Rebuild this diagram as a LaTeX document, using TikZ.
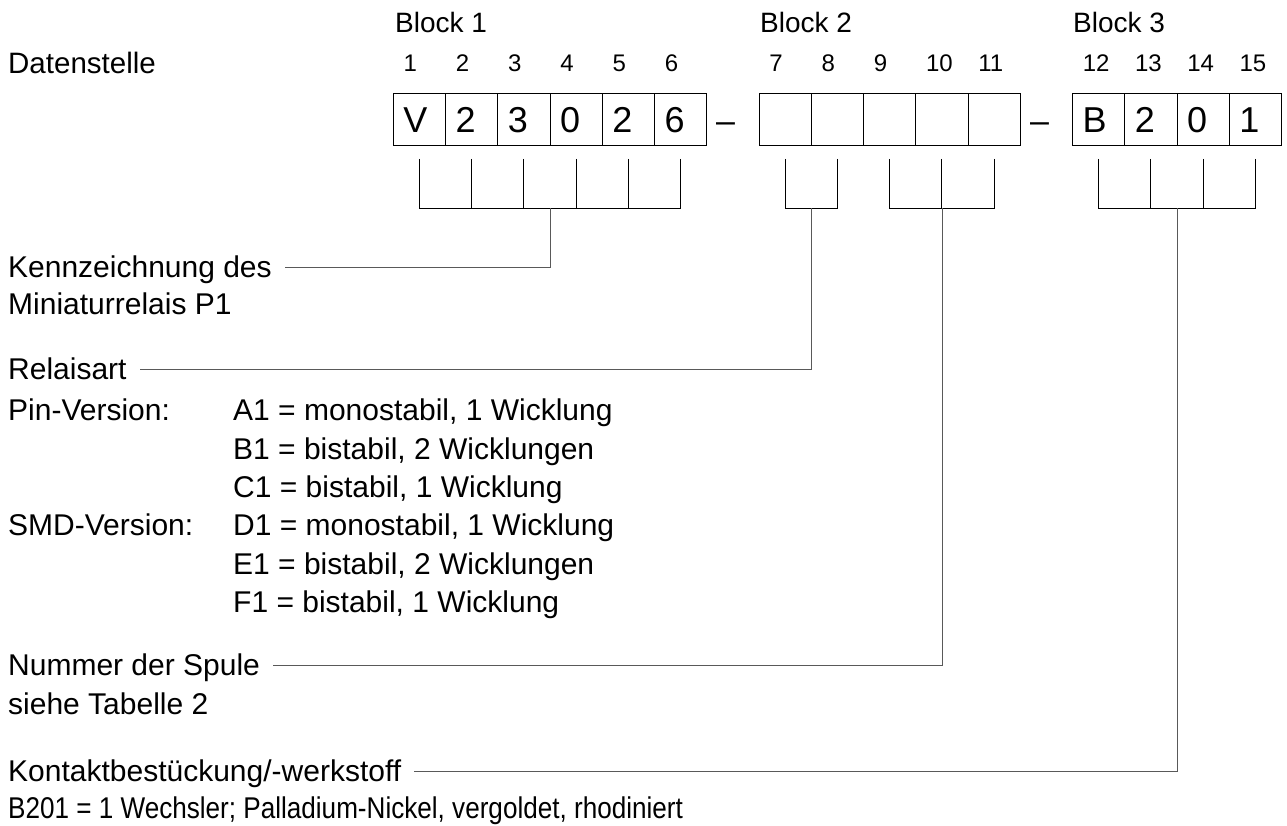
\documentclass[tikz,border=0pt]{standalone}
\usepackage{fontspec}
\setmainfont{Liberation Sans}
\usepackage{tikz}

\begin{document}
\begin{tikzpicture}[x=1pt, y=-1pt,
        cell/.style={draw, line width=0.9pt, minimum height=52.4pt,
                     text width=32.25pt, inner xsep=10pt, inner ysep=0pt,
                     align=left, text height=25.8pt, text depth=0pt,
                     font=\fontsize{36}{42}\selectfont},
        num/.style={anchor=west, inner sep=0pt, text height=17pt,
                    text depth=0pt, font=\fontsize{24}{29}\selectfont},
        lbl/.style={anchor=west, inner sep=0pt, text height=21.5pt,
                    text depth=0pt, font=\fontsize{30}{36}\selectfont},
        head/.style={lbl, text height=20pt, font=\fontsize{28}{34}\selectfont},
        sep/.style={inner sep=0pt, font=\fontsize{34}{40}\selectfont},
        brk/.style={line width=0.9pt},
        lead/.style={line width=1pt, black!65}
    ]
    \useasboundingbox (0,0) rectangle (1287,825);

    % Kopf
    \node[head] (blk1) at (395,22)  {Block 1};
    \node[head] (blk2) at (760,22)  {Block 2};
    \node[head] (blk3) at (1073,22) {Block 3};
    \node[lbl, font=\fontsize{29.5}{36}\selectfont] (dst) at (8,63) {Datenstelle};

    % Datenstellen
    \foreach \i/\s/\t in {1/0/V, 2/1/2, 3/2/3, 4/3/0, 5/4/2, 6/5/6,
                          7/7/{}, 8/8/{}, 9/9/{}, 10/10/{}, 11/11/{},
                          12/13/B, 13/14/2, 14/15/0, 15/16/1} {
        \node[cell] (c\i) at ({393.3+(\s+0.5)*52.25}, 119.6) {\t};
        \node[num]  (n\i) at ({403.3+\s*52.25}, 63) {\i};
    }
    \node[sep] (d1) at (725.5,128)  {–};
    \node[sep] (d2) at (1039.5,128) {–};

    % Klammern
    \foreach \i in {1,...,15}
        \draw[brk] (c\i.south) ++(0,12.5) -- ++(0,50);
    \draw[brk] ([yshift=-62.5pt]c1.south)  -- ([yshift=-62.5pt]c6.south);
    \draw[brk] ([yshift=-62.5pt]c7.south)  -- ([yshift=-62.5pt]c8.south);
    \draw[brk] ([yshift=-62.5pt]c9.south)  -- ([yshift=-62.5pt]c11.south);
    \draw[brk] ([yshift=-62.5pt]c12.south) -- ([yshift=-62.5pt]c15.south);
    \coordinate (m1) at (550.3,208.1);
    \coordinate (m2) at (811.5,208.1);
    \coordinate (m3) at (942.0,208.1);
    \coordinate (m4) at (1177.3,208.1);

    % Erklaerungen
    \node[lbl] (kenn) at (8,267) {Kennzeichnung des};
    \node[lbl] (mini) at (8,304) {Miniaturrelais P1};
    \node[lbl] (art)  at (8,369) {Relaisart};
    \node[lbl] (pin)  at (8,410) {Pin-Version:};
    \node[lbl] (ta)   at (233,410)   {A1 = monostabil, 1 Wicklung};
    \node[lbl] (tb)   at (233,448.4) {B1 = bistabil, 2 Wicklungen};
    \node[lbl] (tc)   at (233,486.8) {C1 = bistabil, 1 Wicklung};
    \node[lbl] (smd)  at (8,525.2)   {SMD-Version:};
    \node[lbl] (td)   at (233,525.2) {D1 = monostabil, 1 Wicklung};
    \node[lbl] (te)   at (233,563.6) {E1 = bistabil, 2 Wicklungen};
    \node[lbl] (tf)   at (233,602)   {F1 = bistabil, 1 Wicklung};
    \node[lbl] (spu)  at (8,665) {Nummer der Spule};
    \node[lbl] (tab)  at (8,704) {siehe Tabelle 2};
    \node[lbl] (kon)  at (8,771) {Kontaktbestückung/-werkstoff};
    \node[lbl, xscale=0.87, transform shape] (wech) at (8,808)
        {B201 = 1 Wechsler; Palladium-Nickel, vergoldet, rhodiniert};

    \draw[lead] (m1) |- ([xshift=13pt]kenn.east);
    \draw[lead] (m2) |- ([xshift=13pt]art.east);
    \draw[lead] (m3) |- ([xshift=13pt]spu.east);
    \draw[lead] (m4) |- ([xshift=13pt]kon.east);
\end{tikzpicture}
\end{document}
